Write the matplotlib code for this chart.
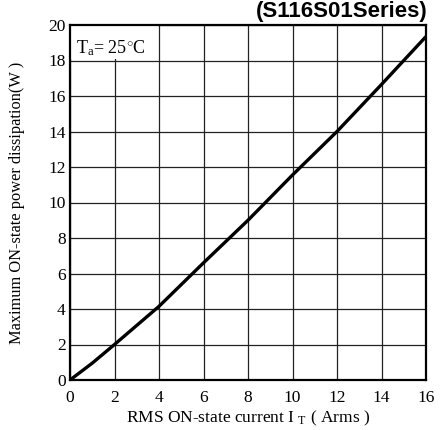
import matplotlib
matplotlib.use("Agg")
import matplotlib.pyplot as plt

plt.rcParams['font.family'] = ['Liberation Serif', 'DejaVu Serif']
plt.rcParams['mathtext.fontset'] = 'custom'
plt.rcParams['mathtext.rm'] = 'Liberation Serif'
plt.rcParams['mathtext.it'] = 'Liberation Serif:italic'

current = [0, 1, 2, 4, 6, 8, 10, 12, 14, 16]
power = [0, 0.95, 2.0, 4.15, 6.6, 9.0, 11.55, 14.0, 16.65, 19.35]
xticks = [0, 2, 4, 6, 8, 10, 12, 14, 16]
yticks = [0, 2, 4, 6, 8, 10, 12, 14, 16, 18, 20]

fig = plt.figure(figsize=(4.44, 4.30), dpi=100)
ax = fig.add_axes([70/444, 1-380/430, 356/444, 355/430])
ax.set_xlim(0, 16)
ax.set_ylim(0, 20)
ax.set_xticks(xticks)
ax.set_yticks(yticks)
ax.grid(True, color='#222222', linewidth=0.9)
ax.set_axisbelow(True)
ax.tick_params(length=0, labelsize=12.5)
ax.tick_params(axis='x', pad=7)
ax.tick_params(axis='y', pad=3)
for s in ax.spines.values():
    s.set_linewidth(1.6)
    s.set_color('black')

ax.plot(current, power, color='black', linewidth=2.4, solid_capstyle='butt', zorder=3)

ax.text(0.27, 18.72, r'T$_{\rm a}$= 25$^{\circ}$C', fontsize=13, va='center', ha='left',
        zorder=4)
# mask grid behind label box
ax.add_patch(plt.Rectangle((0.05, 18.07), 3.9, 1.86, facecolor='white', edgecolor='none', zorder=2))

ax.set_xlabel(r'RMS ON-state current I $_{\rm T}$ ( Arms )', fontsize=12.5, labelpad=2)
ax.set_ylabel('Maximum ON-state power dissipation(W )', fontsize=11.8, labelpad=17)

fig.text(428/444, 1-12/430, '(S116S01Series)', ha='right', va='center',
         fontsize=16, fontweight='bold', family=['Liberation Sans', 'DejaVu Sans'])

fig.savefig('out.png', dpi=100)
